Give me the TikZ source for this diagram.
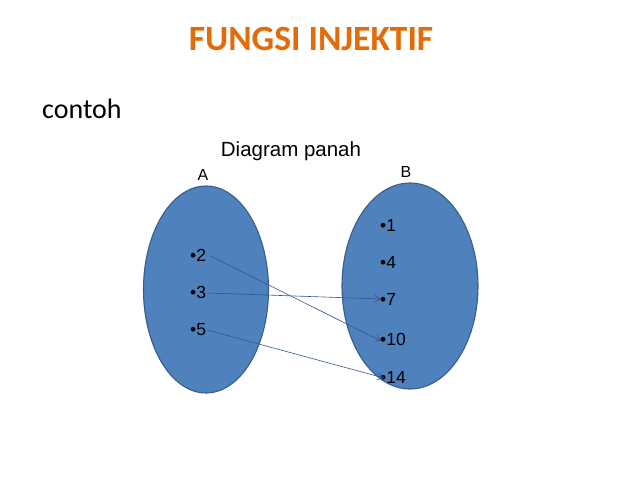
\documentclass[tikz,border=0pt]{standalone}
\usepackage{fontspec}
\setmainfont{Liberation Sans}
\newfontfamily\calibri{Carlito}
\usetikzlibrary{arrows.meta,positioning,calc,shapes.geometric}

\definecolor{judul}{HTML}{E36C09}
\definecolor{himpunan}{HTML}{4F81BD}
\definecolor{tepi}{HTML}{385D8A}
\definecolor{panah}{HTML}{2F5590}

\begin{document}
\begin{tikzpicture}[
  x=1pt, y=-1pt,
  himpunan/.style={
    ellipse,
    draw=tepi,
    fill=himpunan,
    line width=1.1pt,
    inner sep=0pt
  },
  anggota/.style={
    anchor=base west,
    inner sep=1pt,
    font=\fontsize{17.5}{21}\selectfont
  },
  label/.style={font=\fontsize{16}{19}\selectfont, inner sep=0pt},
  peta/.style={-{Straight Barb[length=6pt,width=7pt]}, draw=panah, line width=.6pt}
]
\useasboundingbox (0,0) rectangle (638,478);

\node[font=\calibri\bfseries\fontsize{35.5}{42}\selectfont, text=judul] (title) at (311,39)
  {FUNGSI INJEKTIF};
\node[font=\calibri\fontsize{28}{34}\selectfont, anchor=base west, inner sep=0pt] (contoh) at (42,119)
  {contoh};
\node[font=\fontsize{20.5}{24}\selectfont, inner sep=0pt] (jenis) at (291,151)
  {Diagram panah};

% dua himpunan
\node[himpunan, minimum width=125pt, minimum height=207pt] (setA) at (206,289.5) {};
\node[himpunan, minimum width=136pt, minimum height=206pt] (setB) at (410,286) {};
\node[label] (labelA) at (203,175) {A};
\node[label] (labelB) at (406,172) {B};

% anggota A
\node[anggota] (a2) at (189,262) {•2};
\node[anggota] (a3) at (189,299) {•3};
\node[anggota] (a5) at (189,336) {•5};

% anggota B
\node[anggota] (b1) at (379,232) {•1};
\node[anggota] (b4) at (379,269) {•4};
\node[anggota] (b7) at (379,306) {•7};
\node[anggota] (b10) at (379,346) {•10};
\node[anggota] (b14) at (379,384) {•14};

\draw[peta] ($(a2.east)+(3,0)$) -- ($(b10.west)+(2,1)$);
\draw[peta] (a3.east) -- ($(b7.west)+(2,-1)$);
\draw[peta] (a5.east) -- ($(b14.west)+(5,0)$);
\end{tikzpicture}
\end{document}
